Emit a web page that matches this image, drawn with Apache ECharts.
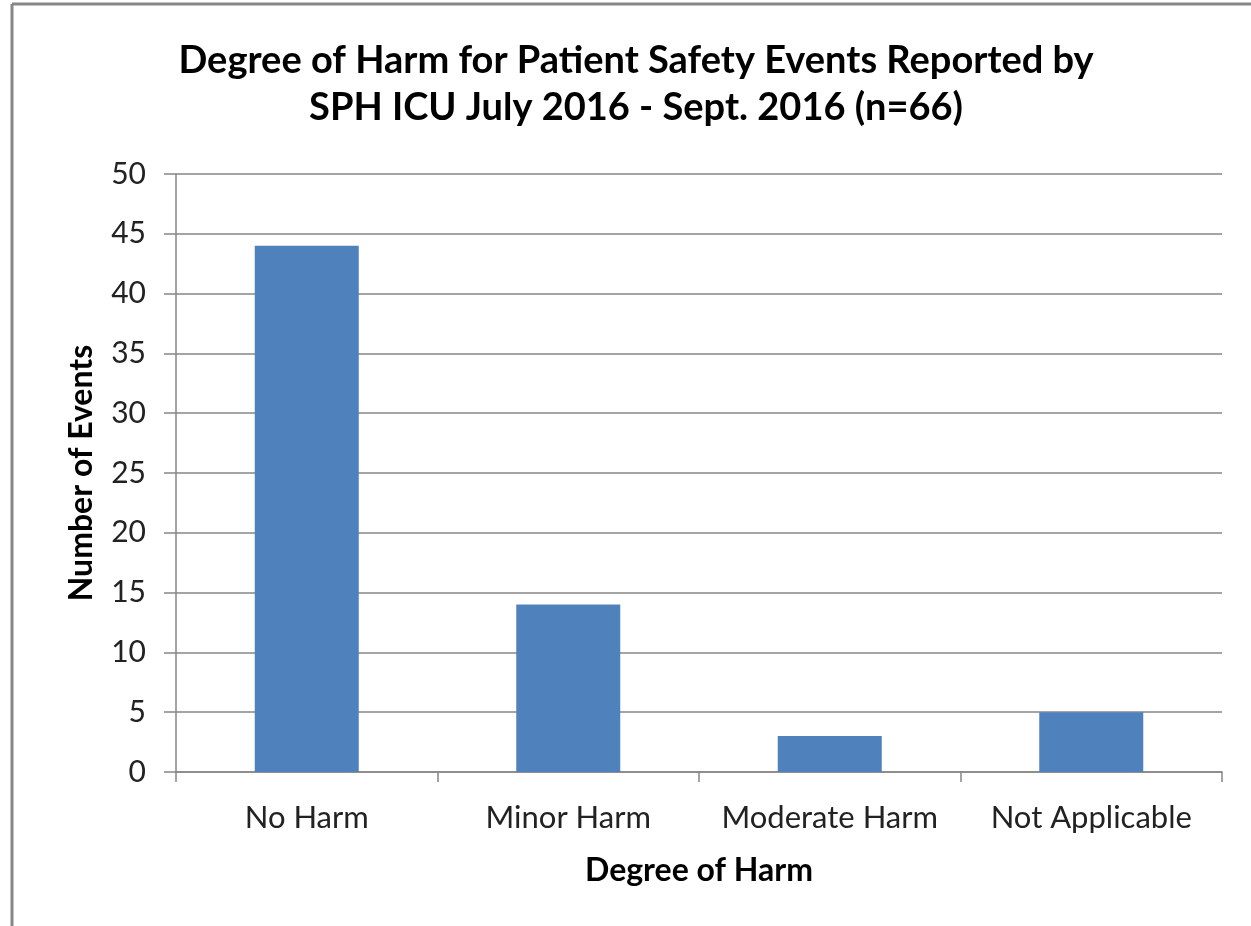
<!DOCTYPE html>
<html>
<head>
<meta charset="utf-8">
<script src="https://cdn.jsdelivr.net/npm/echarts@6/dist/echarts.min.js"></script>
<style>
html,body{margin:0;padding:0;background:#fff;}
#chart{width:1251px;height:926px;}
</style>
</head>
<body>
<div id="chart"></div>
<script>
const categories = ['No Harm', 'Minor Harm', 'Moderate Harm', 'Not Applicable'];
const eventCounts = [44, 14, 3, 5];
const yTicks = { min: 0, max: 50, interval: 5 };

const FONT = 'Lato';
const chart = echarts.init(document.getElementById('chart'), null, { renderer: 'canvas' });
chart.setOption({
  backgroundColor: '#ffffff',
  animation: false,
  title: {
    text: 'Degree of Harm for Patient Safety Events Reported by\nSPH ICU July 2016 - Sept. 2016 (n=66)',
    left: 636,
    top: 37,
    padding: 0,
    textAlign: 'center',
    textStyle: { fontFamily: FONT, fontWeight: 'bold', fontSize: 38, lineHeight: 47, color: '#000' }
  },
  graphic: [
    { type: 'line', shape: { x1: 12, y1: 4, x2: 1251, y2: 4 }, style: { stroke: '#868686', lineWidth: 3 } },
    { type: 'line', shape: { x1: 12, y1: 4, x2: 12, y2: 926 }, style: { stroke: '#868686', lineWidth: 3 } }
  ],
  grid: { left: 176, right: 29, top: 174, bottom: 154 },
  xAxis: {
    type: 'category',
    data: categories,
    axisLine: { show: true, lineStyle: { color: '#868686', width: 1.5 } },
    axisTick: { show: true, interval: 0, length: 10, lineStyle: { color: '#868686', width: 1.5 } },
    axisLabel: { interval: 0, fontFamily: FONT, fontSize: 31, color: '#222', margin: 30 },
    name: 'Degree of Harm',
    nameLocation: 'middle',
    nameGap: 83,
    nameTextStyle: { fontFamily: FONT, fontWeight: 'bold', fontSize: 32, color: '#000' }
  },
  yAxis: {
    type: 'value',
    min: yTicks.min, max: yTicks.max, interval: yTicks.interval,
    axisLine: { show: true, lineStyle: { color: '#868686', width: 1.5 } },
    axisTick: { show: true, length: 12, lineStyle: { color: '#868686', width: 1.5 } },
    splitLine: { show: true, lineStyle: { color: '#868686', width: 1.5 } },
    axisLabel: { fontFamily: FONT, fontSize: 30, color: '#222', margin: 30 },
    name: 'Number of Events',
    nameLocation: 'middle',
    nameRotate: 90,
    nameGap: 94,
    nameTextStyle: { fontFamily: FONT, fontWeight: 'bold', fontSize: 32, color: '#000', verticalAlign: 'middle' }
  },
  series: [{
    type: 'bar',
    data: eventCounts,
    barWidth: 104,
    itemStyle: { color: '#4F81BD' }
  }]
});
</script>
</body>
</html>
